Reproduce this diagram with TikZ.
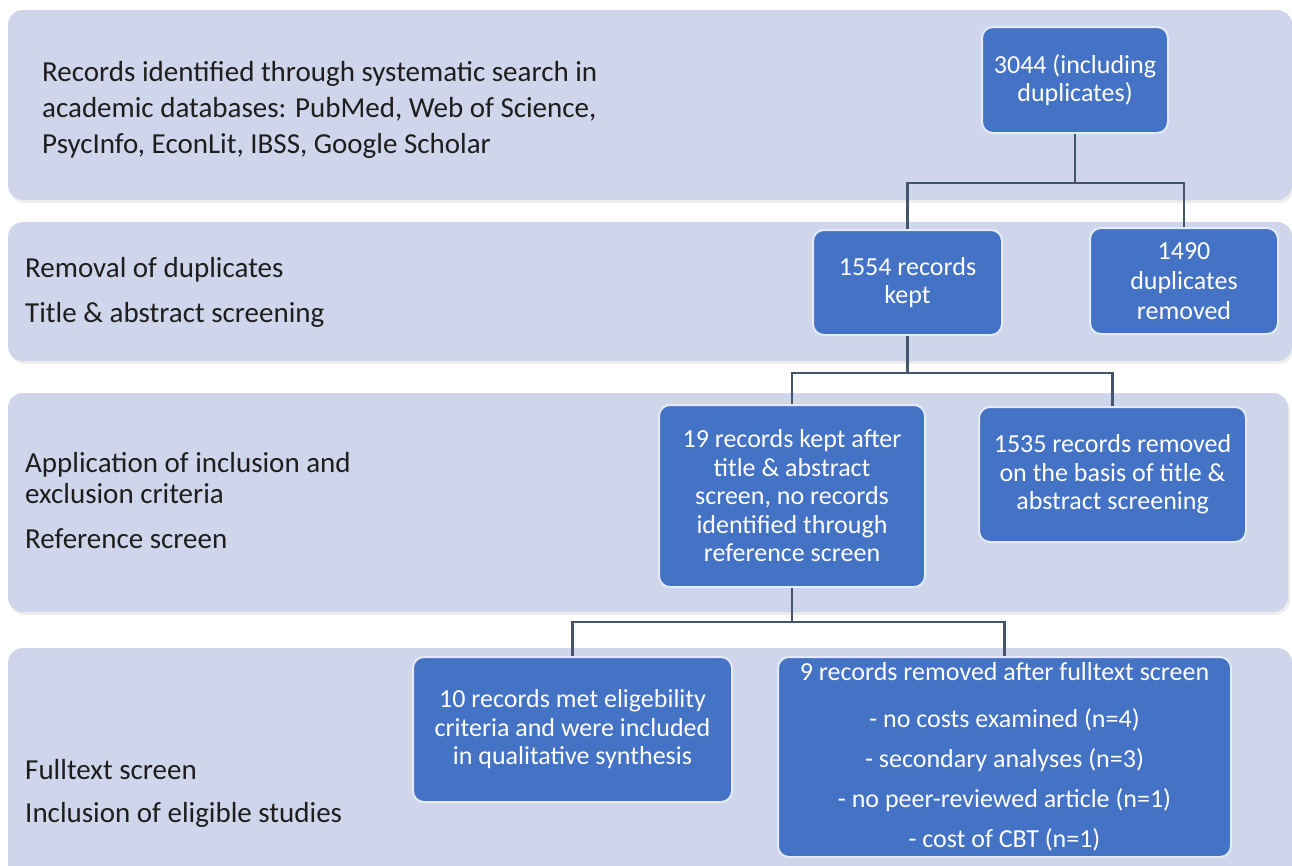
\documentclass[tikz,border=0pt]{standalone}
\usepackage{fontspec}
\setmainfont{Carlito}
\definecolor{bandfill}{HTML}{CFD5EA}
\definecolor{boxblue}{HTML}{4472C4}
\definecolor{boxedge}{HTML}{E4EAF6}
\definecolor{linkcol}{HTML}{44546A}
\definecolor{labeltext}{HTML}{1E1E1E}
\begin{document}
\begin{tikzpicture}[x=1pt,y=-1pt,
  band/.style={fill=bandfill, rounded corners=15pt},
  bandshade/.style={fill=black, opacity=0.07, rounded corners=15pt},
  bandlabel/.style={anchor=base west, inner sep=0pt, text=labeltext, font=\fontsize{29pt}{36pt}\selectfont},
  flowbox/.style={draw=boxedge, line width=2pt, fill=boxblue, rounded corners=11pt, text=white, align=center, inner sep=4pt, font=\fontsize{26pt}{28.5pt}\selectfont},
  link/.style={draw=linkcol, line width=2.4pt}
]
\useasboundingbox (0,0) rectangle (1292,865);
\clip (0,0) rectangle (1292,865);
\fill[white] (0,0) rectangle (1292,865);

% bands
\fill[bandshade] (10,13) rectangle (1294,203);
\fill[band] (8,10) rectangle (1292,200);
\fill[bandshade] (10,225) rectangle (1294,364);
\fill[band] (8,222) rectangle (1292,361);
\fill[bandshade] (10,396) rectangle (1290,615);
\fill[band] (8,393) rectangle (1288,612);
\fill[bandshade] (10,651) rectangle (1294,890);
\fill[band] (8,648) rectangle (1292,888);

% band labels
\node[bandlabel] (l1a) at (42,81) {Records identified through systematic search in};
\node[bandlabel] (l1b) at (42,117) {academic databases: PubMed, Web of Science,};
\node[bandlabel] (l1c) at (42,153) {PsycInfo, EconLit, IBSS, Google Scholar};
\node[bandlabel] (l2a) at (25,277) {Removal of duplicates};
\node[bandlabel] (l2b) at (25,322) {Title \& abstract screening};
\node[bandlabel] (l3a) at (25,472) {Application of inclusion and};
\node[bandlabel] (l3b) at (25,503) {exclusion criteria};
\node[bandlabel] (l3c) at (25,548) {Reference screen};
\node[bandlabel] (l4a) at (25,779) {Fulltext screen};
\node[bandlabel] (l4b) at (25,822) {Inclusion of eligible studies};

% boxes
\node[flowbox, minimum width=186pt, minimum height=106pt] (n3044) at (1075,80) {3044 (including\\duplicates)};
\node[flowbox, minimum width=189pt, minimum height=105pt] (n1554) at (907.5,282.5) {1554 records\\kept};
\node[flowbox, minimum width=188pt, minimum height=106pt, font=\fontsize{26pt}{30pt}\selectfont] (n1490) at (1184,281) {1490\\duplicates\\removed};
\node[flowbox, minimum width=266pt, minimum height=182pt] (n19) at (792,496) {19 records kept after\\title \& abstract\\screen, no records\\identified through\\reference screen};
\node[flowbox, minimum width=267pt, minimum height=135pt] (n1535) at (1112.5,474.5) {1535 records removed\\on the basis of title \&\\abstract screening};
\node[flowbox, minimum width=319pt, minimum height=145pt] (n10) at (572.5,729.5) {10 records met eligebility\\criteria and were included\\in qualitative synthesis};
\node[flowbox, minimum width=453pt, minimum height=200pt] (n9) at (1004.5,757) {9 records removed after fulltext screen\\[19pt]- no costs examined (n=4)\\[11.5pt]- secondary analyses (n=3)\\[11.5pt]- no peer-reviewed article (n=1)\\[11.5pt]- cost of CBT (n=1)};

% connectors
\draw[link] (n3044.south) -- ++(0,49) coordinate (j1);
\draw[link] (n1554.north) |- (j1) -| (n1490.north);
\draw[link] (n1554.south) -- ++(0,37) coordinate (j2);
\draw[link] (n19.north) |- (j2) -| (n1535.north);
\draw[link] (n19.south) -- ++(0,34) coordinate (j3);
\draw[link] (n10.north) |- (j3) -| (n9.north);
\end{tikzpicture}
\end{document}
